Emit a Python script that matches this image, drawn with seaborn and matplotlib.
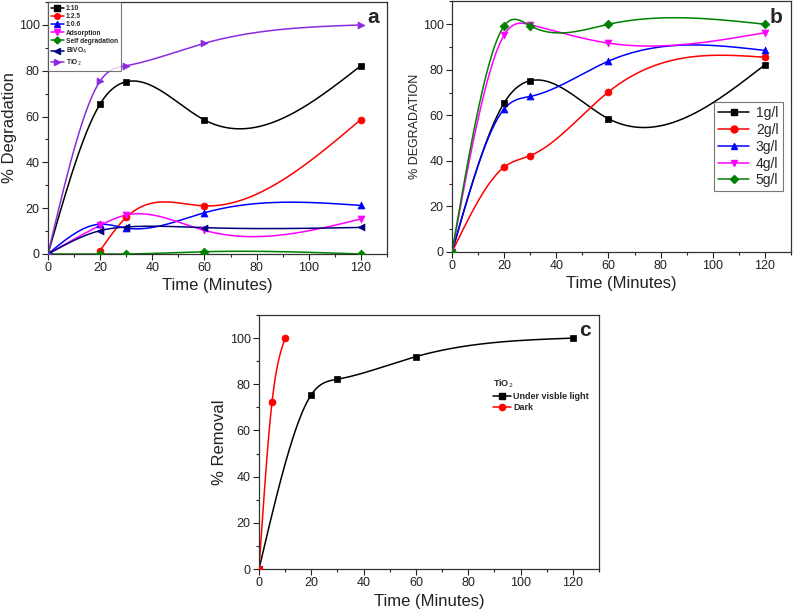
import numpy as np
import pandas as pd
import matplotlib
matplotlib.use('Agg')
import matplotlib.pyplot as plt
import seaborn as sns
from matplotlib.lines import Line2D
from matplotlib.ticker import MultipleLocator

# --- data, panel a
time_a = [0, 20, 30, 60, 120]
r_1_10 = [0, 65.5, 75.2, 58.5, 82.2]
time_a_red = [20, 30, 60, 120]
r_1_2_5 = [1.5, 16.0, 21.0, 58.7]
r_1_0_6 = [0, 13.0, 11.3, 18.0, 21.2]
adsorption = [0, 12.5, 17.0, 10.3, 15.3]
self_degr = [0, 0, 0, 1.0, 0]
bivo4 = [0, 10.2, 11.8, 11.5, 11.6]
tio2_a = [0, 75.5, 82.2, 92.0, 100.0]

# --- data, panel b
time_b = [0, 20, 30, 60, 120]
g1 = [0, 65.5, 75.2, 58.5, 82.2]
g2 = [0, 37.3, 42.3, 70.3, 85.5]
g3 = [0, 62.8, 68.3, 83.8, 88.5]
g4 = [0, 95.3, 99.8, 91.7, 96.3]
g5 = [0, 99.3, 99.3, 100.0, 100.0]

# --- data, panel c
time_vis = [0, 20, 30, 60, 120]
removal_vis = [0, 75.5, 82.2, 92.0, 100.0]
time_dark = [0, 5, 10]
removal_dark = [0, 72.5, 100.0]


def spline(x, y, n=300):
    # natural cubic spline through the measured points (Origin style smooth line)
    x = np.asarray(x, float)
    y = np.asarray(y, float)
    k = len(x)
    h = np.diff(x)
    A = np.zeros((k, k))
    b = np.zeros(k)
    A[0, 0] = A[-1, -1] = 1
    for i in range(1, k - 1):
        A[i, i - 1] = h[i - 1]
        A[i, i] = 2 * (h[i - 1] + h[i])
        A[i, i + 1] = h[i]
        b[i] = 6 * ((y[i + 1] - y[i]) / h[i] - (y[i] - y[i - 1]) / h[i - 1])
    M = np.linalg.solve(A, b)
    xs = np.linspace(x[0], x[-1], n)
    idx = np.clip(np.searchsorted(x, xs) - 1, 0, k - 2)
    x0, x1 = x[idx], x[idx + 1]
    hh = x1 - x0
    t0, t1 = x1 - xs, xs - x0
    ys = (M[idx] * t0 ** 3 + M[idx + 1] * t1 ** 3) / (6 * hh) \
        + (y[idx] / hh - M[idx] * hh / 6) * t0 + (y[idx + 1] / hh - M[idx + 1] * hh / 6) * t1
    return xs, ys


def draw(ax, x, y, color, marker, ms=5, lw=1.1, lms=5):
    xs, ys = spline(x, y)
    sns.lineplot(x=xs, y=ys, ax=ax, color=color, lw=lw, sort=False)
    sns.scatterplot(x=x, y=y, ax=ax, color=color, marker=marker, s=ms ** 2,
                    edgecolor=color, linewidth=0.5, zorder=3)
    return Line2D([], [], color=color, marker=marker, ms=lms, lw=lw)


def style(ax, xlabel, ylabel, ylsize, letter, ylpad=2):
    ax.set_xlim(0, 130)
    ax.set_ylim(0, 110)
    ax.xaxis.set_major_locator(MultipleLocator(20))
    ax.xaxis.set_minor_locator(MultipleLocator(10))
    ax.yaxis.set_major_locator(MultipleLocator(20))
    ax.yaxis.set_minor_locator(MultipleLocator(10))
    ax.tick_params(which='both', direction='out', top=False, right=False,
                   labelsize=9, colors='#222222', width=0.8, pad=2)
    ax.tick_params(which='major', length=4)
    ax.tick_params(which='minor', length=2.5)
    ax.set_xlabel(xlabel, fontsize=12, color='#222222', labelpad=3)
    ax.set_ylabel(ylabel, fontsize=ylsize, color='#222222', labelpad=ylpad)
    for s in ax.spines.values():
        s.set_visible(True)
        s.set_linewidth(0.9)
        s.set_color('#333333')
    ax.text(0.975, 0.975, letter, transform=ax.transAxes, ha='right', va='top',
            fontsize=15, fontweight='bold')


sns.set_style('ticks')
plt.rcParams['font.family'] = ['Liberation Sans', 'DejaVu Sans']

fig = plt.figure(figsize=(7.93, 6.11), dpi=100)

# panel a
ax_a = fig.add_axes([0.0605, 0.5843, 0.4275, 0.4124])
purple = '#8a2be2'
h = [
    draw(ax_a, time_a, r_1_10, 'black', 's', lms=4),
    draw(ax_a, time_a_red, r_1_2_5, 'red', 'o', lms=4),
    draw(ax_a, time_a, r_1_0_6, 'blue', '^', lms=4),
    draw(ax_a, time_a, adsorption, 'magenta', 'v', lms=4),
    draw(ax_a, time_a, self_degr, 'green', 'D', ms=4.5, lms=3.5),
    draw(ax_a, time_a, bivo4, 'navy', '<', lms=4),
    draw(ax_a, time_a, tio2_a, purple, '>', lms=4),
]
labels_a = ['1:10', '1:2.5', '1:0.6', 'Adsorption', 'Self degradation',
            r'BiVO$_4$', r'TiO$_2$']
style(ax_a, 'Time (Minutes)', '% Degradation', 12, 'a', ylpad=1)
leg = ax_a.legend(h, labels_a, loc='upper left', frameon=True,
                  fancybox=False, edgecolor='#555555', borderaxespad=0.0,
                  handlelength=1.9, handletextpad=0.3, labelspacing=0.18,
                  borderpad=0.45, prop={'weight': 'bold', 'size': 4.8})
leg.get_frame().set_linewidth(0.8)

# panel b
ax_b = fig.add_axes([0.570, 0.5876, 0.4275, 0.410])
hb = [
    draw(ax_b, time_b, g1, 'black', 's'),
    draw(ax_b, time_b, g2, 'red', 'o'),
    draw(ax_b, time_b, g3, 'blue', '^'),
    draw(ax_b, time_b, g4, 'magenta', 'v'),
    draw(ax_b, time_b, g5, 'green', 'D', ms=4.5, lms=4.5),
]
style(ax_b, 'Time (Minutes)', '% DEGRADATION', 9, 'b', ylpad=1)
leg = ax_b.legend(hb, ['1g/l', '2g/l', '3g/l', '4g/l', '5g/l'],
                  loc='center right', bbox_to_anchor=(0.975, 0.42), fontsize=10,
                  frameon=True, fancybox=False, edgecolor='#555555',
                  handlelength=2.2, handletextpad=0.5, labelspacing=0.2,
                  borderpad=0.3, borderaxespad=0.0)
leg.get_frame().set_linewidth(0.8)

# panel c
ax_c = fig.add_axes([0.3266, 0.0687, 0.4288, 0.4157])
hc = [
    draw(ax_c, time_vis, removal_vis, 'black', 's', lms=4.5),
    draw(ax_c, time_dark, removal_dark, 'red', 'o', lms=4.5),
]
style(ax_c, 'Time (Minutes)', '% Removal', 12, 'c')
leg = ax_c.legend(hc, ['Under visble light', 'Dark'], title=r'TiO$_2$',
                  loc='upper left', bbox_to_anchor=(0.665, 0.785), frameon=False,
                  prop={'weight': 'bold', 'size': 6.5}, handlelength=2.0,
                  handletextpad=0.2, labelspacing=0.2, alignment='left')
leg.get_title().set_fontsize(6.5)
leg.get_title().set_fontweight('bold')

fig.savefig('out.png', dpi=100)
